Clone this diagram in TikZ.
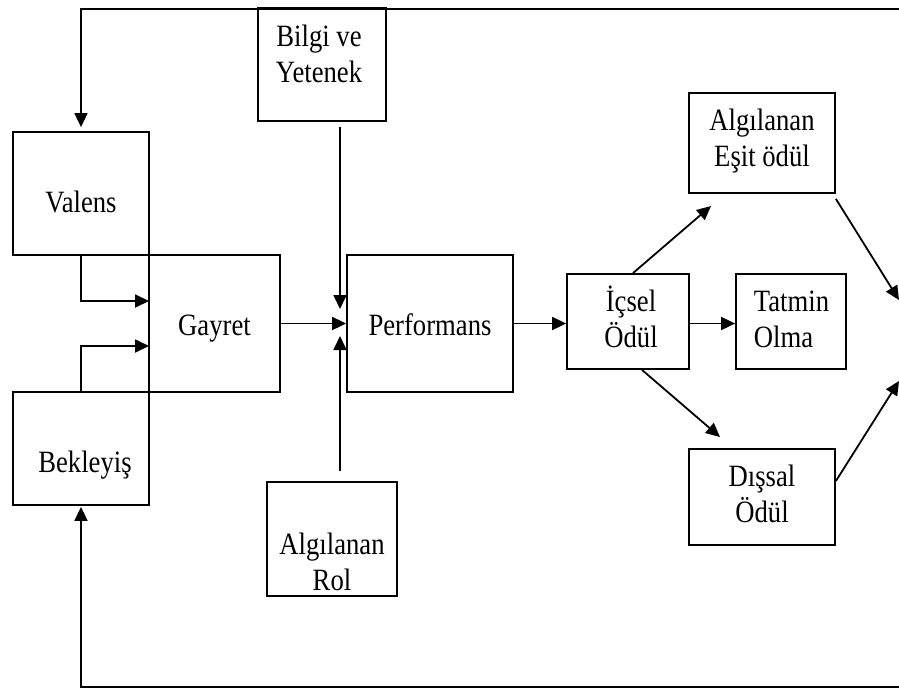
\documentclass[tikz,border=0pt]{standalone}
\usepackage{fontspec}
\setmainfont[FakeStretch=0.86]{Liberation Serif}
\usetikzlibrary{arrows.meta}

\begin{document}
\begin{tikzpicture}[x=1pt,y=-1pt,line width=1.8pt,
  box/.style={draw,rectangle,inner sep=0pt},
  txt/.style={anchor=base,align=center,inner sep=0pt,font=\fontsize{31}{36}\selectfont},
  arr/.style={-{Triangle[length=14pt,width=13pt]}}]
\useasboundingbox (0,0) rectangle (899,689);
\node[box,minimum width=136,minimum height=123] (valens) at (81,193.5) {};
\node[box,minimum width=128,minimum height=113] (bilgi) at (322,64.5) {};
\node[box,minimum width=131,minimum height=137] (gayret) at (214.5,323.5) {};
\node[box,minimum width=136,minimum height=113] (bekleyis) at (81,448.5) {};
\node[box,minimum width=166,minimum height=137] (perf) at (430,323.5) {};
\node[box,minimum width=130,minimum height=114] (rol) at (332,539) {};
\node[box,minimum width=122,minimum height=95] (icsel) at (628,321.5) {};
\node[box,minimum width=110,minimum height=95] (tatmin) at (791,321.5) {};
\node[box,minimum width=146,minimum height=100] (esit) at (762,143) {};
\node[box,minimum width=146,minimum height=96] (dissal) at (762,497) {};
\node[txt] (valenst) at (81,212) {Valens};
\node[txt] (bilgit) at (319,82) {Bilgi ve\\Yetenek};
\node[txt] (gayrett) at (214.5,335) {Gayret};
\node[txt] (bekleyist) at (85,472) {Bekleyiş};
\node[txt] (perft) at (430,335) {Performans};
\node[txt] (rolt) at (332,590) {Algılanan\\Rol};
\node[txt] (icselt) at (631,347) {İçsel\\Ödül};
\node[txt,anchor=base west,align=left] (tatmint) at (753,347) {Tatmin\\Olma};
\node[txt] (esitt) at (762,166) {Algılanan\\Eşit ödül};
\node[txt] (dissalt) at (762,522) {Dışsal\\Ödül};
\coordinate (topr) at (899,9);
\coordinate (botr) at (899,687);
\coordinate (gin1) at (149,301);
\coordinate (gin2) at (149,346);
\coordinate (bin) at (340,309);
\coordinate (rin) at (340,336);
\coordinate (eup) at (711,206);
\coordinate (ddown) at (720,437);
\coordinate (r1) at (899,300);
\coordinate (r2) at (899,381);
\draw[arr,shorten >=4pt] (topr) -| (valens.north);
\draw[arr,shorten >=1pt] (botr) -| (bekleyis.south);
\draw[arr] (valens.south) |- (gin1);
\draw[arr] (bekleyis.north) |- (gin2);
\draw[arr] (gayret.east) -- (perf.west);
\draw[arr,shorten <=5pt] (bilgi.south -| bin) -- (bin);
\draw[arr,shorten <=10pt] (rol.north -| rin) -- (rin);
\draw[arr] (perf.east) -- (perf.east -| icsel.west);
\draw[arr] (icsel.east |- perf.east) -- (tatmin.west |- perf.east);
\draw[arr] ([xshift=5pt]icsel.north) -- (eup);
\draw[arr] ([xshift=14pt]icsel.south) -- (ddown);
\draw[arr] ([yshift=-5pt]esit.south east) -- (r1);
\draw[arr] ([yshift=16pt]dissal.east) -- (r2);
\end{tikzpicture}
\end{document}
